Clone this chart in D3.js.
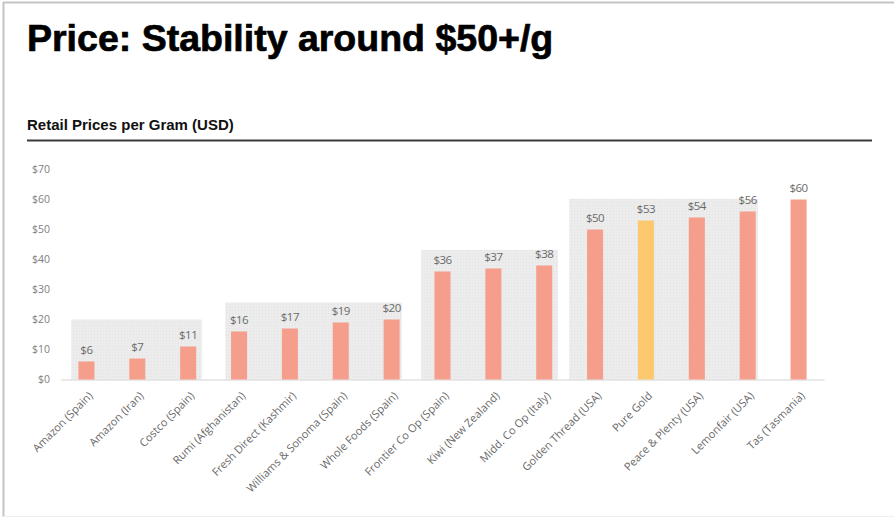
<!DOCTYPE html>
<html>
<head>
<meta charset="utf-8">
<script src="https://cdn.jsdelivr.net/npm/d3@7"></script>
<style>
  html, body { margin: 0; padding: 0; background: #fff; }
  svg { display: block; }
</style>
</head>
<body>
<script>
// ---- Data ----
const title = "Price: Stability around $50+/g";
const subtitle = "Retail Prices per Gram (USD)";
const categories = ["Amazon (Spain)", "Amazon (Iran)", "Costco (Spain)", "Rumi (Afghanistan)",
  "Fresh Direct (Kashmir)", "Williams & Sonoma (Spain)", "Whole Foods (Spain)", "Frontier Co Op (Spain)",
  "Kiwi (New Zealand)", "Midd. Co Op (Italy)", "Golden Thread (USA)", "Pure Gold",
  "Peace & Plenty (USA)", "Lemonfair (USA)", "Tas (Tasmania)"];
const prices = [6, 7, 11, 16, 17, 19, 20, 36, 37, 38, 50, 53, 54, 56, 60];
const highlighted = ["Pure Gold"];
const yTicks = [0, 10, 20, 30, 40, 50, 60, 70];
// shaded price bands: span in category-index units, top in USD
const bandFrom = [-0.30, 2.73, 6.58, 9.49];
const bandTo = [2.27, 6.20, 9.27, 13.20];
const bandTop = [20, 25.7, 43.2, 60.2];

// ---- Layout ----
const W = 894, H = 518;
const svg = d3.select("body").append("svg").attr("width", W).attr("height", H);

const defs = svg.append("defs");
const pat = defs.append("pattern").attr("id", "dots").attr("patternUnits", "userSpaceOnUse")
  .attr("width", 3).attr("height", 3);
pat.append("rect").attr("width", 3).attr("height", 3).attr("fill", "#ececec");
pat.append("rect").attr("x", 1).attr("y", 1).attr("width", 1).attr("height", 1).attr("fill", "#e2e2e2");

// frame
svg.append("line").attr("x1", 3.5).attr("x2", 3.5).attr("y1", 2).attr("y2", 517).attr("stroke", "#c4c4c4").attr("stroke-width", 2);
svg.append("line").attr("x1", 3).attr("x2", W).attr("y1", 2.5).attr("y2", 2.5).attr("stroke", "#c4c4c4").attr("stroke-width", 2);
svg.append("line").attr("x1", 3).attr("x2", W).attr("y1", 516.5).attr("y2", 516.5).attr("stroke", "#eeeeee").attr("stroke-width", 1);

// titles
svg.append("text").attr("x", 27).attr("y", 50.5).text(title)
  .attr("font-family", "Liberation Sans, Arial, sans-serif").attr("font-weight", "bold")
  .attr("font-size", 37.5).attr("fill", "#000")
  .attr("stroke", "#000").attr("stroke-width", 0.7);
svg.append("text").attr("x", 27).attr("y", 130).text(subtitle)
  .attr("font-family", "Liberation Sans, Arial, sans-serif").attr("font-weight", "bold")
  .attr("font-size", 15).attr("fill", "#111");
svg.append("line").attr("x1", 27).attr("x2", 872).attr("y1", 140.5).attr("y2", 140.5)
  .attr("stroke", "#3a3a3a").attr("stroke-width", 2);

// scales
const x = d3.scaleBand().domain(categories).range([61, 824]).paddingInner(0.685).paddingOuter(0.3425);
const y = d3.scaleLinear().domain([0, 70]).range([379.5, 169.5]);
const step = x.step(), bw = x.bandwidth();
const xi = i => x(categories[0]) + bw / 2 + i * step;

const labelFont = "Open Sans, sans-serif";

// shaded bands
svg.append("g").selectAll("rect").data(bandTop).join("rect")
  .attr("x", (d, i) => xi(bandFrom[i]))
  .attr("width", (d, i) => xi(bandTo[i]) - xi(bandFrom[i]))
  .attr("y", d => y(d))
  .attr("height", d => y(0) - y(d))
  .attr("fill", "url(#dots)");

// y axis (labels only)
const yAxis = svg.append("g").attr("transform", "translate(50,0)")
  .call(d3.axisLeft(y).tickValues(yTicks).tickFormat(d => "$" + d).tickSize(0).tickPadding(0));
yAxis.select(".domain").remove();
yAxis.selectAll("text").attr("font-family", labelFont).attr("font-size", 10.5).attr("fill", "#808080");

// x axis
const xAxis = svg.append("g").attr("transform", `translate(0,${y(0)})`)
  .call(d3.axisBottom(x).tickSize(0).tickPadding(0));
xAxis.select(".domain").attr("stroke", "#d4d4d4").attr("stroke-width", 1.2);
xAxis.selectAll("text")
  .attr("font-family", labelFont).attr("font-size", 11).attr("fill", "#6a6a6a")
  .attr("text-anchor", "end").attr("dy", 0)
  .attr("transform", "translate(7,17) rotate(-45)");

// bars
const vals = categories.map((c, i) => ({ c, v: prices[i] }));
svg.append("g").selectAll("rect").data(vals).join("rect")
  .attr("x", d => x(d.c)).attr("width", bw)
  .attr("y", d => y(d.v)).attr("height", d => y(0) - y(d.v))
  .attr("fill", d => highlighted.includes(d.c) ? "#fcc96f" : "#f59e8c");

// value labels
svg.append("g").selectAll("text").data(vals).join("text")
  .attr("x", d => x(d.c) + bw / 2).attr("y", d => y(d.v) - 7.5)
  .attr("text-anchor", "middle")
  .attr("font-family", labelFont).attr("font-size", 11.5).attr("letter-spacing", -0.5)
  .attr("fill", "#6a6a6a")
  .text(d => "$" + d.v);
</script>
</body>
</html>
